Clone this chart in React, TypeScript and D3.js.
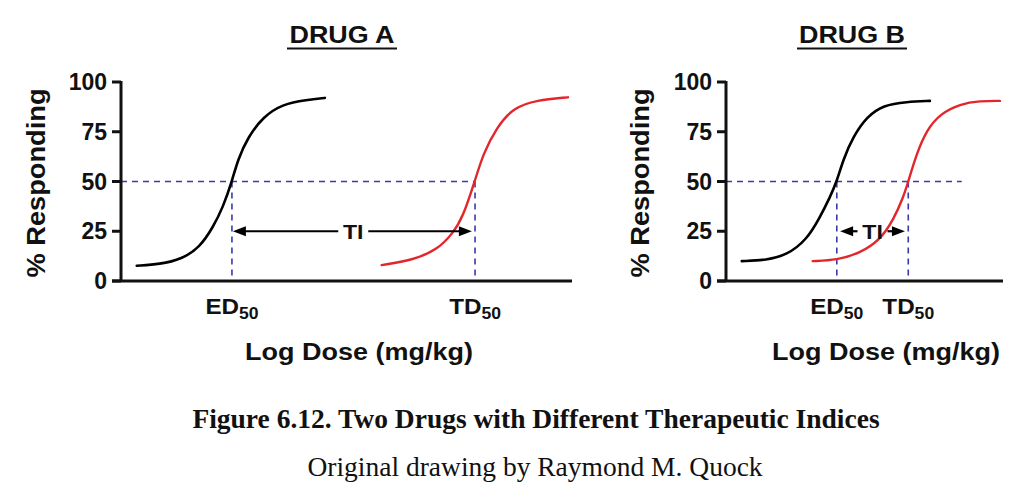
import React from "react";
import * as d3 from "d3";

// ---- data ----
const yTicks = [0, 25, 50, 75, 100];
const panelTitles = ["DRUG A", "DRUG B"];

// Drug A : log dose (arbitrary units 0-100) vs % responding
const drugAEffectDose = [3.5, 8.6, 13.5, 17.5, 20.4, 22.6, 24.6, 25.9, 28.2, 31.5, 35.9, 41.2, 45.2];
const drugAEffectPct = [7.7, 8.4, 11, 17, 27, 37, 50, 61, 72.5, 82.5, 89, 91, 92];
const drugAToxicDose = [57.8, 64.7, 70.1, 73.6, 75.8, 78.5, 80.3, 83.4, 86.9, 92.2, 99.1];
const drugAToxicPct = [8, 10.5, 15.6, 24, 32, 50.5, 64, 77.5, 87, 91, 92.3];
const drugAED50 = 24.6;
const drugATD50 = 78.5;

// Drug B
const drugBEffectDose = [5.7, 14.7, 21.9, 29.1, 33.9, 37.5, 40, 42.3, 45.9, 50.8, 56.8, 65.2, 73.6];
const drugBEffectPct = [10, 10.5, 13, 20.6, 32, 42, 50, 61, 72.5, 82.5, 88.4, 90, 90.5];
const drugBToxicDose = [31.3, 40, 48.4, 55.6, 60.4, 64, 65.8, 68.8, 72.5, 77.3, 84.5, 91.7, 98.9];
const drugBToxicPct = [10, 10.5, 14, 20.6, 30.6, 42, 50, 64, 76, 84, 89, 90.5, 90.5];
const drugBED50 = 40;
const drugBTD50 = 65.8;
const drugBRefLineEnd = 85.1;

const tiLevel = 25;
const midLevel = 50;

const SANS = "'Liberation Sans', Arial, Helvetica, sans-serif";
const SERIF = "'Liberation Serif', 'Times New Roman', serif";
const DASH = "#3a3aa8";
const RED = "#e3262b";

type Panel = {
  title: string;
  titleX: number;
  x0: number;
  x1: number;
  effDose: number[];
  effPct: number[];
  toxDose: number[];
  toxPct: number[];
  ed: number;
  td: number;
  refEnd: number;
  tiFrom: number;
  tiTo: number;
  tiText: number;
  yLabelX: number;
  logDoseX: number;
};

const panels: Panel[] = [
  {
    title: panelTitles[0], titleX: 342, x0: 121, x1: 572,
    effDose: drugAEffectDose, effPct: drugAEffectPct,
    toxDose: drugAToxicDose, toxPct: drugAToxicPct,
    ed: drugAED50, td: drugATD50, refEnd: drugATD50,
    tiFrom: 24.8, tiTo: 77.8, tiText: 51.5, yLabelX: 36, logDoseX: 359,
  },
  {
    title: panelTitles[1], titleX: 852, x0: 726, x1: 1003,
    effDose: drugBEffectDose, effPct: drugBEffectPct,
    toxDose: drugBToxicDose, toxPct: drugBToxicPct,
    ed: drugBED50, td: drugBTD50, refEnd: drugBRefLineEnd,
    tiFrom: 41.2, tiTo: 64.6, tiText: 52.9, yLabelX: 640, logDoseX: 886,
  },
];

const yScale = d3.scaleLinear().domain([0, 100]).range([281, 82]);

function SText({ x, y, sx = 1, rotate = 0, anchor = "middle", size, weight = "bold", family = SANS, children, dy }: any) {
  return (
    <g transform={`translate(${x},${y}) rotate(${rotate}) scale(${sx},1)`}>
      <text textAnchor={anchor} fontSize={size} fontWeight={weight} fontFamily={family} fill="#111" dy={dy}>
        {children}
      </text>
    </g>
  );
}

function Arrow({ x1, x2, y }: { x1: number; x2: number; y: number }) {
  const dir = x2 > x1 ? 1 : -1;
  const len = 13, half = 5;
  const p = `M${x2},${y} L${x2 - dir * len},${y - half} L${x2 - dir * len},${y + half} Z`;
  return (
    <g>
      <line x1={x1} x2={x2 - dir * 6} y1={y} y2={y} stroke="#000" strokeWidth={2.2} />
      <path d={p} fill="#000" />
    </g>
  );
}

function PanelView({ p }: { p: Panel }) {
  const x = d3.scaleLinear().domain([0, 100]).range([p.x0, p.x1]);
  const mk = (dose: number[], pct: number[]) =>
    d3
      .line<number>()
      .x((d) => x(d))
      .y((_, i) => yScale(pct[i]))
      .curve(d3.curveBasis)(dose) as string;
  const yMid = yScale(midLevel);
  const yTi = yScale(tiLevel);
  const y0 = yScale(0);
  const tiX = x(p.tiText);
  const tiHalf = 17;
  return (
    <g>
      {/* title */}
      <SText x={p.titleX} y={43} size={23} sx={1.17}>{p.title}</SText>
      <line x1={p.titleX - 55} x2={p.titleX + 55} y1={48.5} y2={48.5} stroke="#111" strokeWidth={2.2} />

      {/* reference dashed lines */}
      <line x1={p.x0} x2={x(p.refEnd)} y1={yMid} y2={yMid} stroke={DASH} strokeWidth={1.6} strokeDasharray="6,5" />
      <line x1={x(p.ed)} x2={x(p.ed)} y1={yMid} y2={y0} stroke={DASH} strokeWidth={1.6} strokeDasharray="6,5" />
      <line x1={x(p.td)} x2={x(p.td)} y1={yMid} y2={y0} stroke={DASH} strokeWidth={1.6} strokeDasharray="6,5" />

      {/* curves */}
      <path d={mk(p.effDose, p.effPct)} fill="none" stroke="#000" strokeWidth={2.6} strokeLinecap="round" />
      <path d={mk(p.toxDose, p.toxPct)} fill="none" stroke={RED} strokeWidth={2.4} strokeLinecap="round" />

      {/* TI arrows */}
      <Arrow x1={tiX - tiHalf + 2} x2={x(p.tiFrom)} y={yTi} />
      <Arrow x1={tiX + tiHalf - 2} x2={x(p.tiTo)} y={yTi} />
      <SText x={tiX} y={yTi + 7.5} size={21} sx={1.1}>TI</SText>

      {/* axes */}
      <line x1={p.x0} x2={p.x0} y1={yScale(100) - 1} y2={y0} stroke="#111" strokeWidth={3} />
      <line x1={p.x0 - 9} x2={p.x1} y1={y0} y2={y0} stroke="#111" strokeWidth={3} />
      {yTicks.map((t) => (
        <g key={t}>
          <line x1={p.x0 - 9} x2={p.x0} y1={yScale(t)} y2={yScale(t)} stroke="#111" strokeWidth={3} />
          <SText x={p.x0 - 14} y={yScale(t) + 8} size={23} anchor="end">{String(t)}</SText>
        </g>
      ))}
      <SText x={p.yLabelX} y={183} rotate={-90} size={25} sx={1.09} dy={9}>% Responding</SText>

      {/* dose labels */}
      {[["ED", p.ed], ["TD", p.td]].map(([lab, v]) => (
        <g key={lab as string} transform={`translate(${x(v as number)},314) scale(1.1,1)`}>
          <text textAnchor="middle" fontFamily={SANS} fontWeight="bold" fontSize={22} fill="#111">
            {lab as string}
            <tspan fontSize={16} dy={5}>50</tspan>
          </text>
        </g>
      ))}
      <SText x={p.logDoseX} y={360} size={24} sx={1.125}>Log Dose (mg/kg)</SText>
    </g>
  );
}

export default function App() {
  return (
    <svg
      width={1024}
      height={498}
      style={{ position: "absolute", left: 0, top: 0, background: "#fff" }}
    >
      <rect width={1024} height={498} fill="#fff" />
      {panels.map((p) => (
        <PanelView key={p.title} p={p} />
      ))}
      <text x={536} y={428} textAnchor="middle" fontFamily={SERIF} fontWeight="bold" fontSize={27.5} fill="#111">
        Figure 6.12. Two Drugs with Different Therapeutic Indices
      </text>
      <text x={535} y={476} textAnchor="middle" fontFamily={SERIF} fontSize={27.5} fill="#111">
        Original drawing by Raymond M. Quock
      </text>
    </svg>
  );
}
